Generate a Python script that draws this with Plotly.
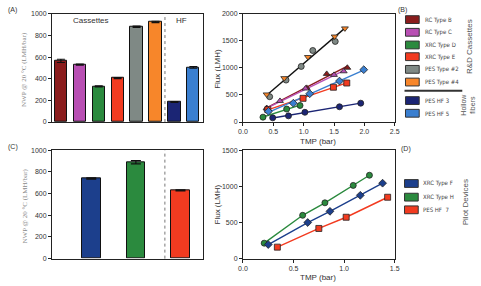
import numpy as np
import plotly.graph_objects as go

W, H = 481, 286

# ---------------- data ----------------
a_names = ["RC Type B", "RC Type C", "XRC Type D", "XRC Type E", "PES Type #2", "PES Type #4", "PES HF 3", "PES HF 5"]
a_values = [565, 530, 330, 405, 880, 925, 185, 505]
a_errors = [15, 4, 5, 5, 6, 6, 3, 8]
a_colors = ["#8a1c1c", "#b84fb3", "#2b8a3e", "#f23b20", "#7f8985", "#f7862a", "#1b2574", "#3a7fd0"]

c_names = ["XRC Type F", "XRC Type H", "PES HF 7"]
c_values = [740, 890, 630]
c_errors = [5, 15, 5]
c_colors = ["#1c3f8c", "#2b8a3e", "#f23b20"]

b_tmp_rcB = [0.39, 1.05, 1.38, 1.72]
b_flux_rcB = [258, 631, 889, 1003]
b_tmp_rcC = [0.40, 0.61, 1.03, 1.50, 1.66]
b_flux_rcC = [246, 390, 619, 871, 937]
b_tmp_xD = [0.33, 0.72, 0.94]
b_flux_xD = [90, 240, 306]
b_tmp_xE = [0.41, 0.99, 1.49, 1.71]
b_flux_xE = [228, 438, 643, 721]
b_tmp_p2 = [0.44, 0.71, 0.96, 1.15, 1.52]
b_flux_p2 = [468, 775, 1027, 1321, 1489]
b_tmp_p4 = [0.39, 0.68, 1.07, 1.51, 1.68]
b_flux_p4 = [510, 811, 1201, 1580, 1730]
b_tmp_hf3 = [0.49, 0.75, 1.02, 1.59, 1.94]
b_flux_hf3 = [78, 114, 180, 282, 348]
b_tmp_hf5 = [0.42, 0.83, 1.10, 1.59, 1.99]
b_flux_hf5 = [198, 348, 523, 757, 967]

d_tmp_F = [0.25, 0.64, 0.86, 1.16, 1.38]
d_flux_F = [195, 500, 655, 877, 1045]
d_tmp_H = [0.21, 0.59, 0.81, 1.09, 1.25]
d_flux_H = [214, 600, 773, 1014, 1155]
d_tmp_7 = [0.34, 0.75, 1.02, 1.43]
d_flux_7 = [159, 418, 573, 850]

legend_b = ["RC Type B", "RC Type C", "XRC Type D", "XRC Type E", "PES Type #2", "PES Type #4", "PES HF 3", "PES HF 5"]
legend_d = ["XRC Type F", "XRC Type H", "PES HF  7"]

# ---------------- helpers ----------------
def px(x):
    return x / W

def py(y):
    return 1 - y / H

fig = go.Figure()

# Panel A bars
a_pos = list(range(len(a_values)))
fig.add_trace(go.Bar(x=a_pos, y=a_values, width=0.65,
                     marker=dict(color=a_colors, line=dict(color="#111", width=1)),
                     error_y=dict(type="data", array=a_errors, color="#111", thickness=1.2, width=4),
                     xaxis="x", yaxis="y", showlegend=False))

# Panel C bars
c_pos = list(range(len(c_values)))
fig.add_trace(go.Bar(x=c_pos, y=c_values, width=0.42,
                     marker=dict(color=c_colors, line=dict(color="#111", width=1)),
                     error_y=dict(type="data", array=c_errors, color="#111", thickness=1.2, width=5),
                     xaxis="x3", yaxis="y3", showlegend=False))

# Panel B series
b_series = [
    (b_tmp_p2, b_flux_p2, "#7f8985", "circle", None),
    (b_tmp_p4, b_flux_p4, "#f7862a", "triangle-down", None),
    (b_tmp_rcB, b_flux_rcB, "#8a1c1c", "triangle-up", "#8a1c1c"),
    (b_tmp_rcC, b_flux_rcC, "#b84fb3", "triangle-up", "#b84fb3"),
    (b_tmp_xE, b_flux_xE, "#f23b20", "square", "#f23b20"),
    (b_tmp_hf5, b_flux_hf5, "#3a7fd0", "diamond", "#3a7fd0"),
    (b_tmp_xD, b_flux_xD, "#2b8a3e", "circle", "#2b8a3e"),
    (b_tmp_hf3, b_flux_hf3, "#1b2574", "circle", "#1b2574"),
]

# combined black fit for PES Type #2 and #4
comb_x = np.array(b_tmp_p2 + b_tmp_p4)
comb_y = np.array(b_flux_p2 + b_flux_p4)
k, b0 = np.polyfit(comb_x, comb_y, 1)
xs = np.array([comb_x.min(), comb_x.max()])
fig.add_trace(go.Scatter(x=xs, y=k * xs + b0, mode="lines", line=dict(color="#111", width=1.4),
                         xaxis="x2", yaxis="y2", showlegend=False, hoverinfo="skip"))

for tx, fl, col, sym, lc in b_series:
    if lc is not None:
        xa = np.array(tx); ya = np.array(fl)
        k, b0 = np.polyfit(xa, ya, 1)
        xs = np.array([xa.min(), xa.max()])
        fig.add_trace(go.Scatter(x=xs, y=k * xs + b0, mode="lines", line=dict(color=lc, width=1.4),
                                 xaxis="x2", yaxis="y2", showlegend=False, hoverinfo="skip"))
for tx, fl, col, sym, lc in b_series:
    fig.add_trace(go.Scatter(x=tx, y=fl, mode="markers",
                             marker=dict(color=col, symbol=sym, size=6, line=dict(color="#222", width=0.8)),
                             xaxis="x2", yaxis="y2", showlegend=False))

# Panel D series
d_series = [
    (d_tmp_H, d_flux_H, "#2b8a3e", "circle"),
    (d_tmp_F, d_flux_F, "#1c3f8c", "diamond"),
    (d_tmp_7, d_flux_7, "#f23b20", "square"),
]
for tx, fl, col, sym in d_series:
    fig.add_trace(go.Scatter(x=tx, y=fl, mode="lines+markers", line=dict(color=col, width=1.4),
                             marker=dict(color=col, symbol=sym, size=6, line=dict(color="#222", width=0.8)),
                             xaxis="x4", yaxis="y4", showlegend=False))

tickfont = dict(family="Liberation Sans, Arial, sans-serif", size=7, color="#333")
axbase = dict(showgrid=False, zeroline=False, showline=True, linecolor="#222", linewidth=1,
              mirror=True, tickfont=tickfont, ticks="outside", ticklen=3, tickcolor="#222", tickwidth=1)

dxA = [px(48), px(202)]
dxB = [px(243), px(398)]
dyTop = [py(121), py(10)]
dyBot = [py(261), py(150)]

fig.update_layout(
    width=W, height=H, margin=dict(l=0, r=0, t=0, b=0),
    paper_bgcolor="white", plot_bgcolor="white", bargap=0,
    xaxis=dict(axbase, domain=dxA, range=[-0.47, 7.5], showticklabels=False, ticks="", anchor="y"),
    yaxis=dict(axbase, domain=dyTop, range=[0, 1000], dtick=200, anchor="x"),
    xaxis2=dict(axbase, domain=dxB, range=[0, 2.5], dtick=0.5, tickformat=".1f", anchor="y2"),
    yaxis2=dict(axbase, domain=dyTop, range=[0, 2000], dtick=500, anchor="x2"),
    xaxis3=dict(axbase, domain=dxA, range=[-0.88, 2.5], showticklabels=False, ticks="", anchor="y3"),
    yaxis3=dict(axbase, domain=dyBot, range=[0, 1000], dtick=200, anchor="x3"),
    xaxis4=dict(axbase, domain=dxB, range=[0, 1.5], dtick=0.5, tickformat=".1f", anchor="y4"),
    yaxis4=dict(axbase, domain=dyBot, range=[0, 1500], dtick=500, anchor="x4"),
)

shapes = []
# dashed separators
shapes.append(dict(type="line", xref="x", yref="y domain", x0=5.5, x1=5.5, y0=0, y1=1,
                   line=dict(color="#777", width=1, dash="dot")))
shapes.append(dict(type="line", xref="x3", yref="y3 domain", x0=1.65, x1=1.65, y0=0, y1=1,
                   line=dict(color="#777", width=1, dash="dot")))

ann = []
lab_font = dict(family="DejaVu Sans Condensed, Liberation Sans Narrow, sans-serif", size=6, color="#444")

# legend B
leg_b_colors = a_colors
leg_b_y = [16, 29, 42, 54, 67, 80, 99, 112]
for name, col, yy in zip(legend_b, leg_b_colors, leg_b_y):
    shapes.append(dict(type="rect", xref="paper", yref="paper", x0=px(409), x1=px(423),
                       y0=py(yy + 4), y1=py(yy - 4), fillcolor=col, line=dict(color="#333", width=1)))
    ann.append(dict(x=px(427), y=py(yy), text=name, xanchor="left", font=lab_font))
shapes.append(dict(type="line", xref="paper", yref="paper", x0=px(408), x1=px(467), y0=py(89), y1=py(89),
                   line=dict(color="#333", width=2)))

# legend D
leg_d_y = [184, 198, 211]
for name, col, yy in zip(legend_d, c_colors, leg_d_y):
    shapes.append(dict(type="rect", xref="paper", yref="paper", x0=px(408), x1=px(422),
                       y0=py(yy + 4), y1=py(yy - 4), fillcolor=col, line=dict(color="#333", width=1)))
    ann.append(dict(x=px(425), y=py(yy), text=name, xanchor="left", font=lab_font))

side_font = dict(family="Liberation Sans, Arial, sans-serif", size=8, color="#555")
ann += [
    dict(x=px(475), y=py(44), text="R&D Cassettes", textangle=-90, font=side_font),
    dict(x=px(473), y=py(103), text="Hollow<br>fibers", textangle=-90, font=dict(side_font, size=7)),
    dict(x=px(470), y=py(203), text="Pilot Devices", textangle=-90, font=side_font),
]

pfont = dict(family="Liberation Sans, Arial, sans-serif", size=7, color="#333")
ann += [
    dict(x=px(1), y=py(6), text="(A)", xanchor="left", font=pfont),
    dict(x=px(399), y=py(6), text="(B)", xanchor="left", font=pfont),
    dict(x=px(1), y=py(147), text="(C)", xanchor="left", font=pfont),
    dict(x=px(402), y=py(149), text="(D)", xanchor="left", font=pfont),
    dict(x=px(88), y=py(17), text="Cassettes", font=dict(family="Liberation Sans, Arial, sans-serif", size=8, color="#333")),
    dict(x=px(180), y=py(17), text="HF", font=dict(family="Liberation Sans, Arial, sans-serif", size=8, color="#333")),
]

ytitle_font = dict(family="Liberation Serif, DejaVu Serif, serif", size=7, color="#888")
ann += [
    dict(x=px(20), y=py(67), text="NWP @ 20 °C (LMH/bar)", textangle=-90, font=ytitle_font),
    dict(x=px(20), y=py(207), text="NWP @ 20 °C (LMH/bar)", textangle=-90, font=ytitle_font),
]
ax_font = dict(family="Liberation Sans, Arial, sans-serif", size=8, color="#333")
ann += [
    dict(x=px(217), y=py(66), text="Flux (LMH)", textangle=-90, font=ax_font),
    dict(x=px(217), y=py(205), text="Flux (LMH)", textangle=-90, font=ax_font),
    dict(x=px(320), y=py(141), text="TMP (bar)", font=ax_font),
    dict(x=px(320), y=py(280), text="TMP (bar)", font=ax_font),
]
for a in ann:
    a.setdefault("xref", "paper")
    a.setdefault("yref", "paper")
    a.setdefault("showarrow", False)
    a.setdefault("xanchor", "center")
    a.setdefault("yanchor", "middle")

fig.update_layout(shapes=shapes, annotations=ann)
fig.write_html("out.html")
